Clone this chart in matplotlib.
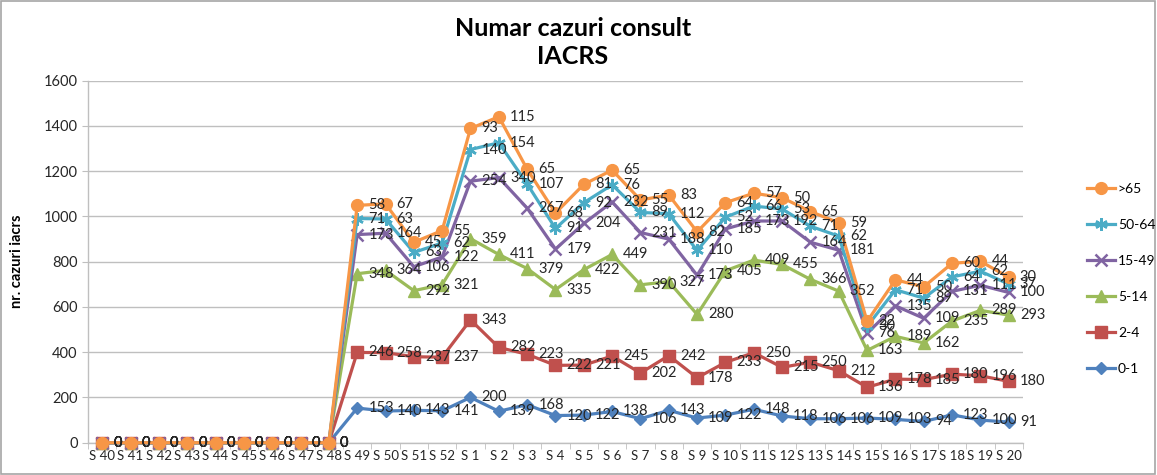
import numpy as np
import matplotlib
matplotlib.use("Agg")
import matplotlib.pyplot as plt
from matplotlib.patches import Rectangle

plt.rcParams['font.family'] = ['Lato', 'DejaVu Sans']

weeks = [f"S {w}" for w in range(40, 53)] + [f"S {w}" for w in range(1, 21)]

zeros = [0] * 9
v_0_1 = zeros + [153, 140, 143, 141, 200, 139, 168, 120, 122, 138, 106, 143, 109, 122, 148, 118,
                 106, 106, 109, 103, 94, 123, 100, 91]
v_2_4 = zeros + [246, 258, 237, 237, 343, 282, 223, 222, 221, 245, 202, 242, 178, 233, 250, 215,
                 250, 212, 136, 178, 185, 180, 196, 180]
v_5_14 = zeros + [348, 364, 292, 321, 359, 411, 379, 335, 422, 449, 390, 327, 280, 405, 409, 455,
                  366, 352, 163, 189, 162, 235, 289, 293]
v_15_49 = zeros + [173, 164, 106, 122, 254, 340, 267, 179, 204, 232, 231, 188, 173, 185, 173, 192,
                   164, 181, 76, 135, 109, 131, 111, 100]
v_50_64 = zeros + [71, 63, 63, 62, 140, 154, 107, 91, 92, 76, 89, 112, 110, 52, 66, 53,
                   71, 62, 30, 71, 89, 64, 62, 37]
v_65 = zeros + [58, 67, 45, 55, 93, 115, 65, 68, 81, 65, 55, 83, 82, 64, 57, 50,
                65, 59, 22, 44, 50, 60, 44, 30]

series_names = ["0-1", "2-4", "5-14", "15-49", "50-64", ">65"]
series_vals = [v_0_1, v_2_4, v_5_14, v_15_49, v_50_64, v_65]
colors = ["#4F81BD", "#C0504D", "#9BBB59", "#8064A2", "#4BACC6", "#F79646"]
markers = ["D", "s", "^", "x", (6, 2, 0), "o"]
msizes = [6.5, 8, 8, 8, 9, 8.5]

fig = plt.figure(figsize=(11.57, 4.75), dpi=100)
ax = fig.add_axes([0.0761, 0.068, 0.808, 0.762])

x = np.arange(len(weeks))
cum = np.cumsum(np.array(series_vals, dtype=float), axis=0)

handles = []
for i, name in enumerate(series_names):
    mew = 1.8 if markers[i] in ("x",) or isinstance(markers[i], tuple) else 1.0
    h, = ax.plot(x, cum[i], color=colors[i], lw=2.3, marker=markers[i], ms=msizes[i],
                 mec=colors[i], mfc=colors[i], mew=mew, clip_on=False, zorder=3 + i,
                 label=name)
    handles.append(h)

for i, name in enumerate(series_names):
    for xi, (c, v) in enumerate(zip(cum[i], series_vals[i])):
        ax.annotate(str(v), (xi, c), xytext=(8, 0), textcoords='offset points',
                    ha='left', va='center', fontsize=10.5, color='#262626', zorder=20,
                    annotation_clip=False)

ax.set_xlim(-0.5, len(weeks) - 0.5)
ax.set_ylim(0, 1600)
ax.set_yticks(np.arange(0, 1601, 200))
ax.set_xticks(x)
ax.set_xticklabels(weeks)
ax.set_xticks(np.arange(-0.5, len(weeks), 1), minor=True)
ax.tick_params(axis='x', which='major', length=0, labelsize=9.5, labelcolor='#262626', pad=5)
ax.tick_params(axis='x', which='minor', length=4, color='#BFBFBF', direction='out')
ax.tick_params(axis='y', length=4, color='#BFBFBF', labelsize=10.5, labelcolor='#262626')
ax.yaxis.grid(True, color='#BFBFBF', lw=1)
ax.set_axisbelow(True)
for s in ['top', 'right']:
    ax.spines[s].set_visible(False)
for s in ['left', 'bottom']:
    ax.spines[s].set_color('#BFBFBF')
    ax.spines[s].set_linewidth(1)

ax.set_ylabel("nr. cazuri iacrs", fontsize=10.5, fontweight='bold', labelpad=14)

fig.text(0.495, 0.965, "Numar cazuri consult\nIACRS", ha='center', va='top',
         fontsize=18, fontweight='bold', linespacing=1.3)

fig.legend(handles[::-1], series_names[::-1], loc='center left',
           bbox_to_anchor=(0.935, 0.413), frameon=False, fontsize=10,
           labelspacing=1.72, handlelength=2.0, handletextpad=0.2, borderaxespad=0)

fig.patches.append(Rectangle((0.001, 0.002), 0.997, 0.995, transform=fig.transFigure,
                             fill=False, edgecolor='#A6A6A6', lw=1.2))

fig.savefig("out.png", dpi=100)
